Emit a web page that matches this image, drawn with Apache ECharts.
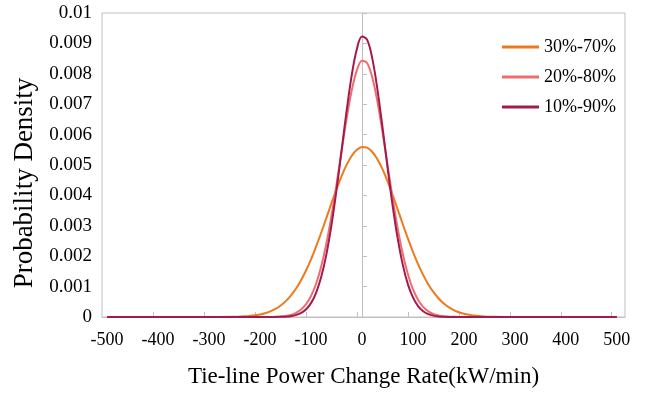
<!DOCTYPE html>
<html>
<head>
<meta charset="utf-8">
<script src="https://cdn.jsdelivr.net/npm/echarts@6/dist/echarts.min.js"></script>
<style>
    html, body { margin: 0; padding: 0; background: #fff; }
    #chart { width: 654px; height: 393px; }
</style>
</head>
<body>
<div id="chart"></div>
<script>
// x values (kW/min)
var rate = [-500, -450, -400, -350, -300, -250, -240, -230, -220, -210, -200, -190, -180, -170, -160,
    -150, -140, -130, -120, -110, -100, -90, -80, -70, -60, -50, -40, -30, -20, -10,
    0, 10, 20, 30, 40, 50, 60, 70, 80, 90, 100, 110, 120, 130, 140, 150, 160, 170, 180, 190,
    200, 210, 220, 230, 240, 250, 300, 350, 400, 450, 500];

var band30_70 = [0, 0, 0, 0, 0, 0.000008, 0.000014, 0.000022, 0.000035, 0.000055, 0.000084, 0.000125, 0.000184, 0.000264, 0.000372,
    0.000514, 0.000695, 0.000921, 0.001196, 0.001522, 0.001897, 0.002317, 0.002772, 0.003251, 0.003735, 0.004204, 0.004637, 0.005011, 0.005305, 0.005504,
    0.005595, 0.005572, 0.005437, 0.005198, 0.004870, 0.004470, 0.004020, 0.003542, 0.003058, 0.002587, 0.002144, 0.001741, 0.001386, 0.001080, 0.000825, 0.000618, 0.000453, 0.000325, 0.000229, 0.000158,
    0.000107, 0.000071, 0.000046, 0.000029, 0.000018, 0.000011, 0, 0, 0, 0, 0];

var band20_80 = [0, 0, 0, 0, 0, 0, 0, 0, 0, 0, 0.000001, 0.000001, 0.000003, 0.000007, 0.000016,
    0.000034, 0.000067, 0.000129, 0.000237, 0.000413, 0.000689, 0.001095, 0.001660, 0.002399, 0.003307, 0.004351, 0.005459, 0.006533, 0.007457, 0.008120,
    0.008432, 0.008353, 0.007892, 0.007112, 0.006114, 0.005014, 0.003922, 0.002925, 0.002082, 0.001413, 0.000915, 0.000565, 0.000333, 0.000187, 0.000100, 0.000051, 0.000025, 0.000012, 0.000005, 0.000002,
    0.000001, 0, 0, 0, 0, 0, 0, 0, 0, 0, 0];

var band10_90 = [0, 0, 0, 0, 0, 0, 0, 0, 0, 0, 0, 0, 0.000001, 0.000002, 0.000005,
    0.000012, 0.000028, 0.000061, 0.000127, 0.000248, 0.000457, 0.000797, 0.001313, 0.002043, 0.003003, 0.004172, 0.005477, 0.006793, 0.007962, 0.008817,
    0.009226, 0.009122, 0.008523, 0.007523, 0.006275, 0.004946, 0.003683, 0.002592, 0.001723, 0.001082, 0.000643, 0.000360, 0.000191, 0.000096, 0.000045, 0.000020, 0.000009, 0.000003, 0.000001, 0,
    0, 0, 0, 0, 0, 0, 0, 0, 0, 0, 0];

var xLabels = [-500, -400, -300, -200, -100, 0, 100, 200, 300, 400, 500];
var xTicks = [-410, -310, -210, -110, -10, 90, 190, 290, 390, 490];
var seriesNames = ['30%-70%', '20%-80%', '10%-90%'];
var colors = ['#EE7A1C', '#EE6E6E', '#A41A4C'];

var toPairs = (vals) => rate.map((x, i) => [x, vals[i]]);

var dom = document.getElementById('chart');
var chart = echarts.init(dom, null, { renderer: 'canvas' });

var font = 'Liberation Serif';

var option = {
    animation: false,
    color: colors,
    textStyle: { fontFamily: font },
    grid: {
        left: 102,
        right: 29,
        top: 13,
        bottom: 70,
        show: true,
        borderColor: '#C0C0C0',
        borderWidth: 1
    },
    legend: {
        orient: 'vertical',
        left: 497,
        top: 32,
        icon: 'rect',
        itemWidth: 37,
        itemHeight: 3,
        itemGap: 10,
        data: seriesNames,
        textStyle: { fontFamily: font, fontSize: 18, color: '#000', lineHeight: 20 }
    },
    xAxis: {
        type: 'value',
        min: -510,
        max: 516,
        name: 'Tie-line Power Change Rate(kW/min)',
        nameLocation: 'middle',
        nameGap: 48,
        nameTextStyle: { fontFamily: font, fontSize: 23, color: '#000' },
        axisLine: { lineStyle: { color: '#C0C0C0' } },
        axisTick: { show: true, inside: true, length: 5, customValues: xTicks, lineStyle: { color: '#C0C0C0' } },
        axisLabel: { customValues: xLabels, fontFamily: font, fontSize: 18, color: '#000', margin: 14 },
        splitLine: { show: false }
    },
    yAxis: {
        type: 'value',
        min: 0,
        max: 0.01,
        interval: 0.001,
        name: 'Probability Density',
        nameLocation: 'middle',
        nameGap: 64,
        nameTextStyle: { fontFamily: font, fontSize: 27, color: '#000', padding: [0, 36, 0, 0] },
        axisLine: { show: true, lineStyle: { color: '#C0C0C0' } },
        axisTick: { show: true, inside: true, length: 5, lineStyle: { color: '#C0C0C0' } },
        axisLabel: {
            fontFamily: font, fontSize: 19, color: '#000', margin: 10,
            formatter: (v) => v === 0 ? '0' : String(parseFloat(v.toFixed(3)))
        },
        splitLine: { show: false }
    },
    series: [
        { name: seriesNames[0], type: 'line', smooth: 0.35, showSymbol: false, lineStyle: { width: 2 }, data: toPairs(band30_70) },
        { name: seriesNames[1], type: 'line', smooth: 0.35, showSymbol: false, lineStyle: { width: 2 }, data: toPairs(band20_80) },
        { name: seriesNames[2], type: 'line', smooth: 0.35, showSymbol: false, lineStyle: { width: 2 }, data: toPairs(band10_90) }
    ]
};

chart.setOption(option);
window.addEventListener('resize', chart.resize);
</script>
</body>
</html>
